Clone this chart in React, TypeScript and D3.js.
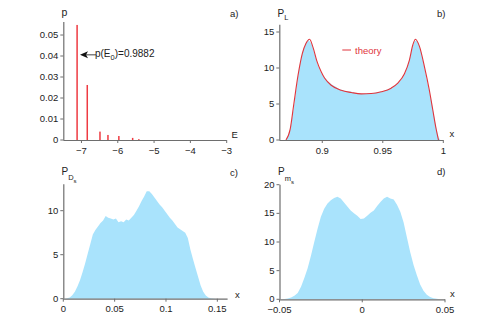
import React from "react";
import * as d3 from "d3";

const W = 491;
const H = 336;

// ---------- Panel a: discrete energy probabilities ----------
const levelE = [-7.12, -6.84, -6.49, -6.27, -5.97, -5.59, -5.42];
const levelP = [0.0548, 0.0262, 0.004, 0.0024, 0.0019, 0.001, 0.0004];
const aXTicks = [-7, -6, -5, -4, -3];
const aXLabels = ["−7", "−6", "−5", "−4", "−3"];
const aYTicks = [0, 0.01, 0.02, 0.03, 0.04, 0.05];
const aYLabels = ["0", "0.01", "0.02", "0.03", "0.04", "0.05"];
const annotTip = [-7.04, 0.0408];
const annotTail = [-6.6, 0.0408];
const annotValue = "0.9882";

// ---------- Panel b: P_L histogram + theory ----------
const bHistStart = 0.87;
const bHistWidth = 0.0025;
const bHist = [
  0.3, 1.6, 4.3, 7.3, 10.3, 12.3, 13.4, 13.9, 13.3, 11.9, 10.4, 9.4, 8.8, 8.3, 7.9, 7.6,
  7.4, 7.1, 6.95, 6.85, 6.75, 6.75, 6.55, 6.5, 6.45, 6.4, 6.45, 6.5, 6.5, 6.55, 6.65,
  6.75, 6.85, 7.0, 7.2, 7.4, 7.7, 8.1, 8.6, 9.4, 10.6, 12.4, 13.8, 13.7, 12.5, 10.6, 8.5,
  6.5, 4.4, 2.0, 0.3,
];
const theoryX = [
  0.87, 0.8735, 0.8765, 0.88, 0.8835, 0.8865, 0.8895, 0.8925, 0.8955, 0.899, 0.9019,
  0.9074, 0.9157, 0.9239, 0.9322, 0.9404, 0.9487, 0.9569, 0.9624, 0.9679, 0.972, 0.9748,
  0.977, 0.9803, 0.9844, 0.9885, 0.9913, 0.994, 0.996,
];
const theoryY = [
  0, 1.5, 5.0, 9.0, 12.0, 13.4, 14.0, 12.8, 11.0, 9.5, 8.6, 7.6, 6.9, 6.6, 6.4, 6.45, 6.7,
  7.2, 7.9, 9.2, 11.1, 13.2, 14.0, 13.0, 10.2, 6.9, 4.2, 1.6, 0,
];
const bXTicks = [0.9, 0.95, 1];
const bXLabels = ["0.9", "0.95", "1"];
const bYTicks = [0, 5, 10, 15];
const bYLabels = ["0", "5", "10", "15"];
const legendLabel = "theory";

// ---------- Panel c: P_Ds histogram ----------
const cHistStart = 0;
const cHistWidth = 0.0025;
const cHist = [
  0.0, 0.05, 0.15, 0.4, 0.8, 1.4, 2.1, 3.0, 4.0, 5.1, 6.2, 7.3, 7.8, 8.2, 8.6, 8.9, 9.4,
  9.2, 9.1, 9.0, 9.1, 8.7, 8.8, 8.7, 9.0, 8.9, 9.2, 9.5, 10.0, 10.5, 11.1, 11.6, 12.2,
  12.2, 11.9, 11.5, 11.1, 10.7, 10.4, 10.0, 9.6, 9.2, 8.9, 8.5, 8.1, 7.9, 7.7, 7.5, 6.9,
  5.6, 4.5, 3.5, 2.5, 1.5, 0.8, 0.35, 0.15, 0.06, 0.02, 0.0,
];
const cXTicks = [0, 0.05, 0.1, 0.15];
const cXLabels = ["0", "0.05", "0.1", "0.15"];
const cYTicks = [0, 5, 10];
const cYLabels = ["0", "5", "10"];

// ---------- Panel d: P_ms histogram ----------
const dHistStart = -0.05;
const dHistWidth = 0.002;
const dHist = [
  0, 0.05, 0.15, 0.3, 0.6, 1.1, 2.2, 3.7, 5.4, 7.6, 10.0, 12.3, 14.4, 15.8, 16.7, 17.3,
  17.7, 17.9, 17.6, 16.9, 16.2, 15.5, 15.0, 14.6, 14.0, 14.1, 14.6, 15.1, 15.5, 16.3,
  17.0, 17.6, 17.9, 17.6, 17.4, 16.5, 15.3, 13.4, 10.8, 8.2, 6.0, 4.2, 2.6, 1.5, 0.8, 0.4,
  0.2, 0.08, 0.02, 0,
];
const dXTicks = [-0.05, 0, 0.05];
const dXLabels = ["−0.05", "0", "0.05"];
const dYTicks = [0, 5, 10, 15, 20];
const dYLabels = ["0", "5", "10", "15", "20"];

// ---------- styles ----------
const FONT = "'Liberation Sans', Arial, Helvetica, sans-serif";
const AXIS_COLOR = "#6e6e6e";
const TEXT_COLOR = "#222";
const HIST_FILL = "#a9e3fc";
const RED = "#e0353c";
const BAR_RED = "#ee3b42";
const TICK_FS = 9.5;

type Lin = d3.ScaleLinear<number, number>;

function Axes({ x, y, xTicks, xLabels, yTicks, yLabels }: {
  x: Lin; y: Lin; xTicks: number[]; xLabels: string[]; yTicks: number[]; yLabels: string[];
}) {
  const [x0, x1] = x.range();
  const [y0, y1] = y.range();
  return (
    <g fontFamily={FONT} fontSize={TICK_FS} fill={TEXT_COLOR}>
      <line x1={x0} x2={x1} y1={y0 + 0.5} y2={y0 + 0.5} stroke={AXIS_COLOR} strokeWidth={1.2} />
      <line x1={x0 + 0.5} x2={x0 + 0.5} y1={y0} y2={y1} stroke={AXIS_COLOR} strokeWidth={1.2} />
      {xTicks.map((t, i) => (
        <g key={"x" + i}>
          <line x1={x(t)} x2={x(t)} y1={y0} y2={y0 + 3} stroke={AXIS_COLOR} strokeWidth={1} />
          <text x={x(t)} y={y0 + 7} dy="0.71em" textAnchor="middle">{xLabels[i]}</text>
        </g>
      ))}
      {yTicks.map((t, i) => (
        <g key={"y" + i}>
          <line x1={x0 - 3} x2={x0} y1={y(t)} y2={y(t)} stroke={AXIS_COLOR} strokeWidth={1} />
          <text x={x0 - 5} y={y(t)} dy="0.33em" textAnchor="end">{yLabels[i]}</text>
        </g>
      ))}
    </g>
  );
}

function histPath(x: Lin, y: Lin, start: number, width: number, vals: number[]) {
  const pts: [number, number][] = [[start, 0]];
  vals.forEach((v, i) => pts.push([start + (i + 0.5) * width, v]));
  pts.push([start + vals.length * width, 0]);
  const area = d3
    .area<[number, number]>()
    .x((d) => x(d[0]))
    .y0(y(0))
    .y1((d) => y(d[1]))
    .curve(d3.curveLinear);
  return area(pts) || "";
}

export default function App() {
  const ax = d3.scaleLinear().domain([-7.5, -3]).range([63.3, 226.7]);
  const ay = d3.scaleLinear().domain([0, 0.0562]).range([140, 22]);
  const bx = d3.scaleLinear().domain([0.8645, 1]).range([279.3, 443.3]);
  const by = d3.scaleLinear().domain([0, 16]).range([140, 24.8]);
  const cx = d3.scaleLinear().domain([0, 0.16]).range([63.3, 227.6]);
  const cy = d3.scaleLinear().domain([0, 13]).range([298.7, 184.3]);
  const dx = d3.scaleLinear().domain([-0.05, 0.05]).range([279.5, 445]);
  const dy = d3.scaleLinear().domain([0, 20]).range([299.3, 184.7]);

  const theoryLine = d3
    .line<number>()
    .x((_, i) => bx(theoryX[i]))
    .y((v) => by(v))
    .curve(d3.curveMonotoneX)(theoryY) || "";

  const tipX = ax(annotTip[0]);
  const tipY = ay(annotTip[1]);
  const tailX = ax(annotTail[0]);

  return (
    <svg
      width={W}
      height={H}
      viewBox={`0 0 ${W} ${H}`}
      style={{ position: "absolute", left: 0, top: 0, background: "#fff" }}
    >
      <rect x={0} y={0} width={W} height={H} fill="#fff" />

      {/* ---- Panel a ---- */}
      <Axes x={ax} y={ay} xTicks={aXTicks} xLabels={aXLabels} yTicks={aYTicks} yLabels={aYLabels} />
      {levelE.map((e, i) => (
        <rect
          key={i}
          x={ax(e) - 0.75}
          width={1.5}
          y={ay(levelP[i])}
          height={ay(0) - ay(levelP[i])}
          fill={BAR_RED}
        />
      ))}
      <line x1={tipX + 5} x2={tailX} y1={tipY + 0.5} y2={tipY + 0.5} stroke="#111" strokeWidth={0.8} />
      <path
        d={`M${tipX},${tipY + 0.5} L${tipX + 8},${tipY - 3} L${tipX + 6},${tipY + 0.5} L${tipX + 8},${tipY + 4} Z`}
        fill="#111"
      />
      <text x={tailX - 1} y={tipY + 3} fontFamily={FONT} fontSize={10} fill={TEXT_COLOR}>
        p(E<tspan fontSize={7.5} dy={2.5}>0</tspan>
        <tspan dy={-2.5}>)={annotValue}</tspan>
      </text>
      <text x={61.5} y={16} fontFamily={FONT} fontSize={10.5} fill={TEXT_COLOR}>p</text>
      <text x={231.5} y={138} fontFamily={FONT} fontSize={9.5} fill={TEXT_COLOR}>E</text>
      <text x={230} y={17} fontFamily={FONT} fontSize={9.5} fill={TEXT_COLOR}>a)</text>

      {/* ---- Panel b ---- */}
      <path d={histPath(bx, by, bHistStart, bHistWidth, bHist)} fill={HIST_FILL} />
      <path d={theoryLine} fill="none" stroke={RED} strokeWidth={1.1} />
      <Axes x={bx} y={by} xTicks={bXTicks} xLabels={bXLabels} yTicks={bYTicks} yLabels={bYLabels} />
      <line x1={342.3} x2={351} y1={50} y2={50} stroke={RED} strokeWidth={1} />
      <text x={355} y={54} fontFamily={FONT} fontSize={9.5} fill={RED}>{legendLabel}</text>
      <text x={277.5} y={16.7} fontFamily={FONT} fontSize={10} fill={TEXT_COLOR}>
        P<tspan fontSize={7.5} dy={3}>L</tspan>
      </text>
      <text x={449.5} y={137} fontFamily={FONT} fontSize={9.5} fill={TEXT_COLOR}>x</text>
      <text x={437} y={17} fontFamily={FONT} fontSize={9.5} fill={TEXT_COLOR}>b)</text>

      {/* ---- Panel c ---- */}
      <path d={histPath(cx, cy, cHistStart, cHistWidth, cHist)} fill={HIST_FILL} />
      <Axes x={cx} y={cy} xTicks={cXTicks} xLabels={cXLabels} yTicks={cYTicks} yLabels={cYLabels} />
      <text x={61.5} y={174.7} fontFamily={FONT} fontSize={10} fill={TEXT_COLOR}>
        P<tspan fontSize={7.5} dy={5}>D</tspan>
        <tspan fontSize={6} dy={3.5}>s</tspan>
      </text>
      <text x={235} y={298} fontFamily={FONT} fontSize={9.5} fill={TEXT_COLOR}>x</text>
      <text x={230} y={175.5} fontFamily={FONT} fontSize={9.5} fill={TEXT_COLOR}>c)</text>

      {/* ---- Panel d ---- */}
      <path d={histPath(dx, dy, dHistStart, dHistWidth, dHist)} fill={HIST_FILL} />
      <Axes x={dx} y={dy} xTicks={dXTicks} xLabels={dXLabels} yTicks={dYTicks} yLabels={dYLabels} />
      <text x={278} y={174.7} fontFamily={FONT} fontSize={10} fill={TEXT_COLOR}>
        P<tspan fontSize={7.5} dy={6}>m</tspan>
        <tspan fontSize={6} dy={3.5}>s</tspan>
      </text>
      <text x={450} y={297} fontFamily={FONT} fontSize={9.5} fill={TEXT_COLOR}>x</text>
      <text x={437} y={174.5} fontFamily={FONT} fontSize={9.5} fill={TEXT_COLOR}>d)</text>
    </svg>
  );
}
